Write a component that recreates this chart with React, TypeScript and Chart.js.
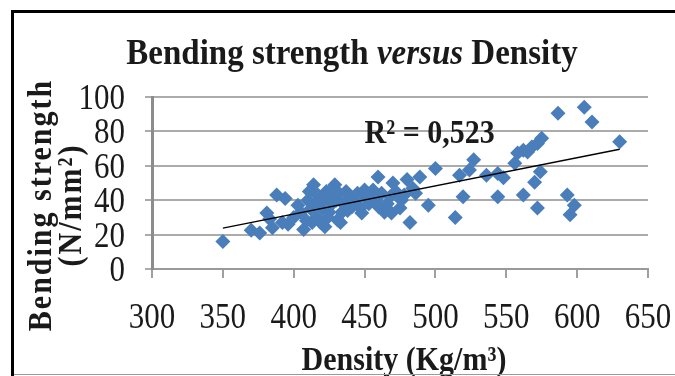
import React, { useEffect, useRef } from "react";
import { Chart, registerables } from "chart.js";

Chart.register(...registerables);

// ---- data ----
const densities = [
  350, 370, 376, 381, 383, 385, 388, 392, 394, 396, 400, 403, 405, 407, 409, 410, 411, 412, 413, 414,
  415, 416, 417, 418, 419, 420, 421, 422, 423, 424, 425, 426, 427, 428, 429, 430, 431, 432, 433, 434,
  435, 437, 438, 440, 441, 443, 445, 447, 448, 450, 451, 453, 455, 456, 458, 459.5, 460, 462, 464, 466,
  468, 469, 470, 472, 475, 476, 478, 480, 482, 484, 486, 489, 495, 500, 514, 517, 519.5, 524, 527, 536,
  544, 544, 548, 556, 558, 562, 565, 562, 568, 570, 572, 572, 574, 575, 586.5, 593, 595, 598, 605, 610.5,
  630,
];
const strengths = [
  16, 22.5, 21, 32.5, 29, 24, 43, 27, 41, 26, 30, 37, 33, 23, 28, 40, 45, 35, 27, 49,
  38, 30, 43, 42, 27, 35, 40, 24.5, 45, 30, 33, 43, 38, 47, 49, 40, 28.5, 44, 27, 33,
  38, 45, 34, 42, 36, 39, 44, 35.5, 32.5, 46, 41, 38, 42, 46, 40, 53.5, 36, 44, 33, 38,
  42, 32.5, 50, 45, 35.5, 40, 43, 52, 27, 47, 44, 53.5, 37, 58.5, 30, 54.5, 42, 57.5, 63.5, 54.5,
  55.5, 42, 53, 61.5, 67.5, 69, 68, 43, 71, 50.5, 35.5, 73, 56.5, 76, 90.5, 43, 31.5, 37, 94, 85.5,
  74,
];
const trendSlope = [0.1637];
const trendIntercept = [-33.5];
const trendRange = [350, 630];
const xTickValues = [300, 350, 400, 450, 500, 550, 600, 650];
const yTickValues = [0, 20, 40, 60, 80, 100];
const rSquaredText = "R² = 0,523";
const rSquaredAt = [450, 73];
const titleParts = ["Bending strength ", "versus", " Density"];
const yTitleLines = ["Bending strength", "(N/mm²)"];
const xTitleText = "Density (Kg/m³)";

const SERIF = '"Liberation Serif", "Times New Roman", serif';
const TEXT_COLOR = "#1a1a1a";

function stretchedText(
  ctx: CanvasRenderingContext2D,
  text: string,
  x: number,
  y: number,
  font: string,
  sy: number,
  align: CanvasTextAlign
) {
  ctx.save();
  ctx.font = font;
  ctx.textAlign = align;
  ctx.textBaseline = "alphabetic";
  ctx.translate(x, y);
  ctx.scale(1, sy);
  ctx.fillText(text, 0, 0);
  ctx.restore();
}

const textPlugin = {
  id: "customTexts",
  beforeDraw(chart: any) {
    const ctx = chart.ctx;
    ctx.save();
    ctx.fillStyle = "#ffffff";
    ctx.fillRect(0, 0, chart.width, chart.height);
    ctx.restore();
  },
  afterDraw(chart: any) {
    const ctx: CanvasRenderingContext2D = chart.ctx;
    const xs = chart.scales.x;
    const ys = chart.scales.y;
    ctx.save();
    ctx.fillStyle = TEXT_COLOR;

    // Tick labels (taken from the scales' ticks)
    const tickFont = `31px ${SERIF}`;
    xs.ticks.forEach((t: any) => {
      stretchedText(ctx, String(t.value), xs.getPixelForValue(t.value), 328, tickFont, 1.15, "center");
    });
    ys.ticks.forEach((t: any) => {
      stretchedText(ctx, String(t.value), 125, ys.getPixelForValue(t.value) + 12, tickFont, 1.15, "right");
    });

    // Title with italic middle word
    const fonts = [
      `bold 33px ${SERIF}`,
      `italic bold 33px ${SERIF}`,
      `bold 33px ${SERIF}`,
    ];
    let total = 0;
    const widths = titleParts.map((t, i) => {
      ctx.font = fonts[i];
      const w = ctx.measureText(t).width;
      total += w;
      return w;
    });
    let x = 352 - total / 2;
    titleParts.forEach((t, i) => {
      stretchedText(ctx, t, x, 64, fonts[i], 1.1, "left");
      x += widths[i];
    });

    // R² label
    stretchedText(
      ctx,
      rSquaredText,
      xs.getPixelForValue(rSquaredAt[0]),
      ys.getPixelForValue(rSquaredAt[1]),
      `bold 30px ${SERIF}`,
      1.1,
      "left"
    );

    // X title
    stretchedText(ctx, xTitleText, 404, 370, `bold 30px ${SERIF}`, 1.15, "center");

    // Y title (rotated, two lines)
    const baselines = [51, 81];
    yTitleLines.forEach((line, i) => {
      ctx.save();
      ctx.font = `bold 30px ${SERIF}`;
      (ctx as any).letterSpacing = "2px";
      ctx.textAlign = "center";
      ctx.textBaseline = "alphabetic";
      ctx.translate(baselines[i], 205);
      ctx.rotate(-Math.PI / 2);
      ctx.scale(1, 1.12);
      ctx.fillText(line, 0, 0);
      ctx.restore();
    });

    // Frame
    ctx.fillStyle = "#000000";
    ctx.fillRect(11, 10, chart.width - 11, 3);
    ctx.fillRect(11, 10, 3, chart.height - 10);
    ctx.fillStyle = "#9a9a9a";
    ctx.fillRect(14, chart.height - 2, chart.width - 14, 1);
    ctx.restore();
  },
};

export default function App() {
  const ref = useRef<HTMLCanvasElement>(null);
  useEffect(() => {
    document.body.style.margin = "0";
    const chart = new Chart(ref.current as HTMLCanvasElement, {
      type: "scatter",
      data: {
        datasets: [
          {
            type: "line",
            data: trendRange.map((v) => ({ x: v, y: trendSlope[0] * v + trendIntercept[0] })),
            borderColor: "#000000",
            borderWidth: 1.4,
            pointRadius: 0,
            fill: false,
            order: 0,
          } as any,
          {
            type: "scatter",
            data: densities.map((v, i) => ({ x: v, y: strengths[i] })),
            pointStyle: "rectRot",
            pointRadius: 7.5,
            backgroundColor: "#4A7EBB",
            borderWidth: 0,
            order: 1,
          } as any,
        ],
      },
      options: {
        responsive: false,
        animation: false,
        devicePixelRatio: 1,
        layout: { padding: { top: 97, right: 27, left: 0, bottom: 0 } },
        plugins: {
          legend: { display: false },
          title: { display: false },
          tooltip: { enabled: false },
        },
        scales: {
          x: {
            type: "linear",
            min: 300,
            max: 650,
            afterBuildTicks: (axis: any) => {
              axis.ticks = xTickValues.map((v) => ({ value: v }));
            },
            afterFit: (axis: any) => {
              axis.height = 107;
            },
            grid: {
              drawOnChartArea: false,
              drawTicks: true,
              tickLength: 9,
              color: "#a0a0a0",
              lineWidth: 2,
            },
            border: { color: "#9a9a9a", width: 2 },
            ticks: { display: false, autoSkip: false },
          },
          y: {
            type: "linear",
            min: 0,
            max: 100,
            afterBuildTicks: (axis: any) => {
              axis.ticks = yTickValues.map((v) => ({ value: v }));
            },
            afterFit: (axis: any) => {
              axis.width = 152;
            },
            grid: {
              color: "#ababab",
              lineWidth: 2,
              tickLength: 7,
            },
            border: { color: "#8c8c8c", width: 3 },
            ticks: { display: false, autoSkip: false },
          },
        },
      } as any,
      plugins: [textPlugin],
    });
    return () => chart.destroy();
  }, []);
  return (
    <div style={{ width: 675, height: 376 }}>
      <canvas ref={ref} width={675} height={376} style={{ display: "block" }} />
    </div>
  );
}
